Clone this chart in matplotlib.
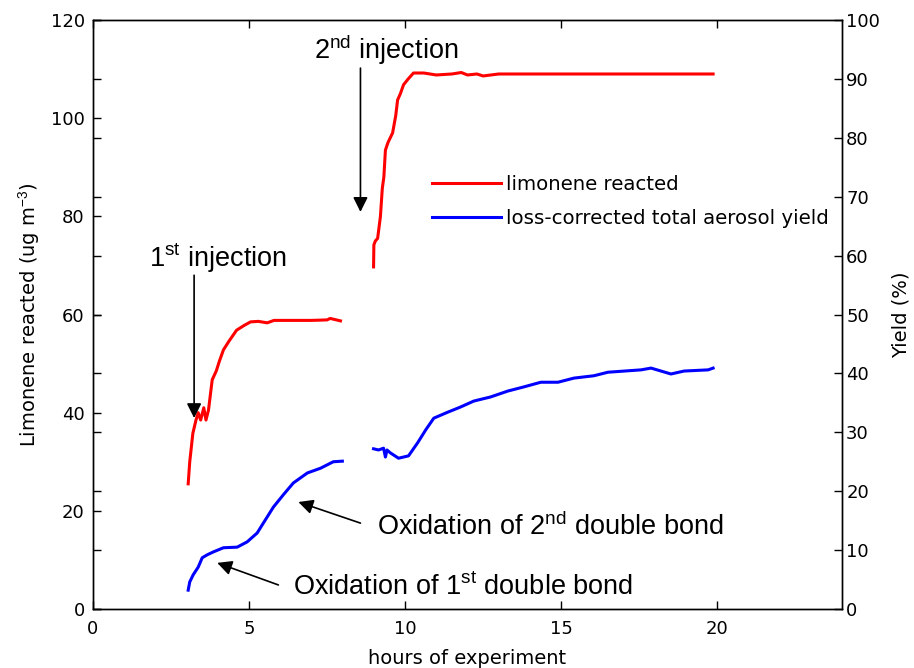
import matplotlib
matplotlib.use('Agg')
import matplotlib.pyplot as plt

plt.rcParams['font.family'] = ['Liberation Sans', 'DejaVu Sans']
plt.rcParams['mathtext.fontset'] = 'custom'
plt.rcParams['mathtext.rm'] = 'Liberation Sans'
plt.rcParams['mathtext.it'] = 'Liberation Sans:italic'

# ---- data ----
hours_red_1 = [3.05, 3.1, 3.2, 3.3, 3.37, 3.45, 3.55, 3.62, 3.7, 3.82, 3.95, 4.05, 4.18,
               4.35, 4.6, 4.85, 5.05, 5.3, 5.58, 5.8, 6.5, 7.0, 7.5, 7.6, 7.93]
limonene_1 = [25.5, 30, 35.8, 38.5, 40, 38.5, 41, 38.5, 40.5, 46.7, 48.5, 50.5, 52.8,
              54.5, 56.8, 57.8, 58.5, 58.6, 58.3, 58.8, 58.8, 58.8, 58.9, 59.2, 58.7]

hours_red_2 = [8.99, 9.0, 9.05, 9.12, 9.21, 9.27, 9.32, 9.37, 9.45, 9.6, 9.7, 9.76, 9.85,
               9.95, 10.1, 10.27, 10.6, 11.0, 11.5, 11.8, 12.0, 12.3, 12.5, 13.0, 15.0, 18.0, 19.87]
limonene_2 = [69.7, 74.2, 75.0, 75.5, 80.0, 85.7, 88.0, 93.5, 95.0, 97.0, 100.5, 103.7, 105.0,
              106.8, 108.0, 109.2, 109.2, 108.8, 109.0, 109.3, 108.8, 109.0, 108.6, 109.0, 109.0, 109.0, 109.0]

hours_blue_1 = [3.05, 3.1, 3.21, 3.37, 3.5, 3.66, 3.86, 4.18, 4.62, 4.94, 5.26, 5.46, 5.78,
                6.1, 6.42, 6.87, 7.29, 7.7, 7.99]
yield_1 = [3.2, 4.6, 5.8, 7.1, 8.7, 9.2, 9.7, 10.4, 10.5, 11.4, 12.9, 14.6, 17.3,
           19.4, 21.4, 23.1, 23.9, 25.0, 25.1]

hours_blue_2 = [8.99, 9.15, 9.31, 9.37, 9.42, 9.53, 9.79, 10.11, 10.4, 10.66, 10.92, 11.36,
                11.78, 12.2, 12.74, 13.29, 13.8, 14.35, 14.9, 15.41, 16.05, 16.5, 17.56,
                17.88, 18.52, 18.94, 19.71, 19.87]
yield_2 = [27.2, 27.0, 27.3, 25.8, 27.0, 26.5, 25.6, 26.0, 28.2, 30.4, 32.4, 33.4,
           34.3, 35.3, 36.0, 37.0, 37.7, 38.5, 38.5, 39.2, 39.6, 40.2, 40.6,
           40.9, 39.9, 40.4, 40.6, 40.9]

x_ticks = [0, 5, 10, 15, 20]
left_ticks = [0, 20, 40, 60, 80, 100, 120]
right_ticks = [0, 10, 20, 30, 40, 50, 60, 70, 80, 90, 100]
legend_labels = ['limonene reacted', 'loss-corrected total aerosol yield']

# ---- figure ----
fig = plt.figure(figsize=(9.14, 6.68), dpi=100)
ax = fig.add_axes([93/914, 1-609/668, (842-93)/914, (609-20)/668])
ax2 = ax.twinx()

tick_font = dict(family='DejaVu Sans', size=13)
label_font = dict(family='DejaVu Sans', size=14)

l1, = ax.plot(hours_red_1, limonene_1, color='#ff0000', lw=2.2)
ax.plot(hours_red_2, limonene_2, color='#ff0000', lw=2.2)
l2, = ax2.plot(hours_blue_1, yield_1, color='#0000ff', lw=2.2)
ax2.plot(hours_blue_2, yield_2, color='#0000ff', lw=2.2)

ax.set_xlim(0, 24)
ax.set_ylim(0, 120)
ax2.set_ylim(0, 100)
ax.set_xticks(x_ticks)
ax.set_yticks(left_ticks)
ax2.set_yticks(right_ticks)
ax.set_xticklabels([str(v) for v in x_ticks], fontdict=tick_font)
ax.set_yticklabels([str(v) for v in left_ticks], fontdict=tick_font)
ax2.set_yticklabels([str(v) for v in right_ticks], fontdict=tick_font)

ax.tick_params(axis='x', direction='in', top=True, length=6, width=1, pad=8)
ax.tick_params(axis='y', direction='in', length=6, width=1, pad=6)
ax2.tick_params(axis='y', direction='in', left=True, right=True, labelleft=False,
                labelright=True, length=6, width=1, pad=3)
for a in (ax, ax2):
    for s in a.spines.values():
        s.set_linewidth(1.0)

ax.set_xlabel('hours of experiment', fontdict=label_font, labelpad=8)
ax.set_ylabel('Limonene reacted (ug m$^{-3}$)', fontdict=label_font, labelpad=6)
ax2.set_ylabel('Yield (%)', fontdict=label_font, labelpad=8)

ax2.legend([l1, l2], legend_labels, loc='upper left', bbox_to_anchor=(0.452, 0.737),
           frameon=False, borderaxespad=0, borderpad=0, handlelength=3.5,
           handletextpad=0.3, labelspacing=0.78,
           prop=dict(family='DejaVu Sans', size=14.2))

arrow = dict(arrowstyle='-|>', color='k', lw=1.2, mutation_scale=22, shrinkA=0, shrinkB=0)
ann_font = dict(size=19.5)
ax.annotate('', xy=(3.24, 38.9), xytext=(3.24, 68), arrowprops=arrow)
ax.text(4.0, 71.5, '1$^{\\rm st}$ injection', ha='center', va='center', **ann_font)
ax.annotate('', xy=(8.57, 80.9), xytext=(8.57, 110.2), arrowprops=arrow)
ax.text(9.4, 114.0, '2$^{\\rm nd}$ injection', ha='center', va='center', **ann_font)
ax.annotate('', xy=(6.58, 21.8), xytext=(8.57, 17.5), arrowprops=arrow)
ax.text(9.1, 16.7, 'Oxidation of 2$^{\\rm nd}$ double bond', ha='left', va='center', **ann_font)
ax.annotate('', xy=(3.98, 9.4), xytext=(5.94, 4.9), arrowprops=arrow)
ax.text(6.42, 4.3, 'Oxidation of 1$^{\\rm st}$ double bond', ha='left', va='center', **ann_font)

fig.savefig('out.png', dpi=100, facecolor='white')
